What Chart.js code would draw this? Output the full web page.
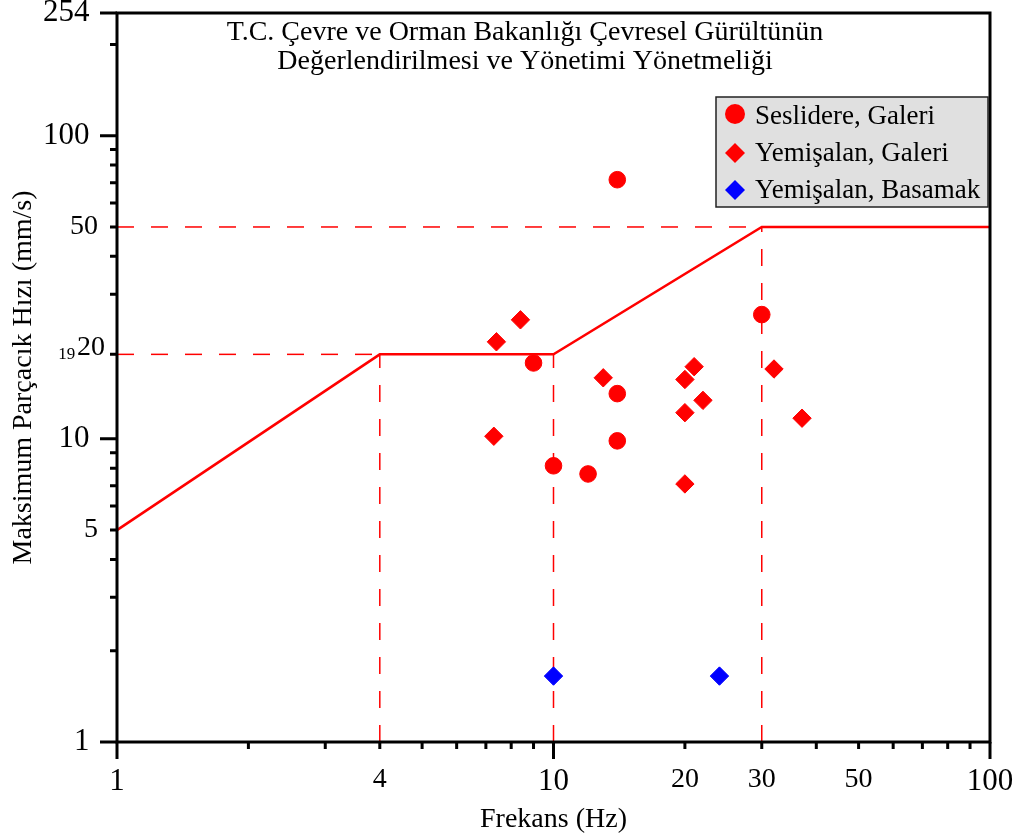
<!DOCTYPE html>
<html>
<head>
<meta charset="utf-8">
<script src="https://cdn.jsdelivr.net/npm/chart.js@4/dist/chart.umd.min.js"></script>
<style>
  html, body { margin: 0; padding: 0; background: #fff; }
</style>
</head>
<body>
<canvas id="chart" width="1020" height="836"></canvas>
<script>
// values (frequency in Hz, peak particle velocity in mm/s)
const seslidereFreq = [14, 30, 9, 14, 14, 10, 12];
const seslidereVel = [71.6, 25.7, 17.8, 14.1, 9.85, 8.15, 7.66];

const galeriFreq = [8.4, 7.4, 7.3, 13, 21, 20, 20, 22, 20, 32, 37.1];
const galeriVel = [24.7, 20.9, 10.2, 15.9, 17.3, 15.7, 12.2, 13.4, 7.1, 17.0, 11.7];

const basamakFreq = [10, 24];
const basamakVel = [1.65, 1.65];

// regulation limit curve
const limitFreq = [1, 4, 10, 30, 100];
const limitVel = [5, 19, 19, 50, 50];

// axis ticks
const xTickLabels = [1, 4, 10, 20, 30, 50, 100];
const yTickLabels = [1, 5, 10, 19, 20, 50, 100, 254];
const xMajorTicks = [1, 10, 100];
const xMinorTicks = [2, 3, 4, 5, 6, 7, 8, 9, 20, 30, 40, 50, 60, 70, 80, 90];
const yMajorTicks = [1, 10, 100, 254];
const yMinorTicks = [2, 3, 4, 5, 6, 7, 8, 9, 19, 30, 40, 50, 60, 70, 80, 90, 200];

const chartTitle = [
  'T.C. Çevre ve Orman Bakanlığı Çevresel Gürültünün',
  'Değerlendirilmesi ve Yönetimi Yönetmeliği'
];

const SERIF = "'Liberation Serif', 'Times New Roman', serif";
const RED = '#ff0000';
const BLUE = '#0000ff';

const pts = (xs, ys) => xs.map((x, i) => ({ x, y: ys[i] }));

// dashed guides drop from the knees of the limit curve
const guide = (data) => ({
  type: 'line',
  data,
  borderColor: RED,
  borderWidth: 1.5,
  borderDash: [17, 17],
  pointRadius: 0,
  fill: false,
  tension: 0
});

// extra right-side space so the right-aligned y labels sit like the original
const yLabelPad = { 1: 2, 5: 1, 10: 2, 19: 7, 50: 1, 100: 2, 254: 2 };

const frameAndTicks = {
  id: 'frameAndTicks',
  afterDraw(chart) {
    const { ctx, chartArea: a, scales: { x, y } } = chart;
    ctx.save();
    ctx.strokeStyle = '#000';
    ctx.lineWidth = 3;
    ctx.beginPath();
    xMajorTicks.forEach(v => { const p = x.getPixelForValue(v); ctx.moveTo(p, a.bottom); ctx.lineTo(p, a.bottom + 17); });
    xMinorTicks.forEach(v => { const p = x.getPixelForValue(v); ctx.moveTo(p, a.bottom); ctx.lineTo(p, a.bottom + 7); });
    yMajorTicks.forEach(v => { const p = y.getPixelForValue(v); ctx.moveTo(a.left, p); ctx.lineTo(a.left - 17, p); });
    yMinorTicks.forEach(v => { const p = y.getPixelForValue(v); ctx.moveTo(a.left, p); ctx.lineTo(a.left - 7, p); });
    ctx.stroke();
    ctx.strokeRect(a.left, a.top, a.right - a.left, a.bottom - a.top);

    // title inside the plot
    ctx.fillStyle = '#000';
    ctx.font = '28px ' + SERIF;
    ctx.textAlign = 'center';
    ctx.textBaseline = 'middle';
    chartTitle.forEach((line, i) => ctx.fillText(line, a.left + 408, a.top + 20 + i * 29));

    // legend box
    const left = a.right - 274, top = a.top + 84, w = 272, h = 110;
    ctx.fillStyle = '#e0e0e0';
    ctx.fillRect(left, top, w, h);
    ctx.lineWidth = 1.5;
    ctx.strokeStyle = '#222';
    ctx.strokeRect(left, top, w, h);
    ctx.textAlign = 'left';
    ctx.font = '27px ' + SERIF;
    chart.data.datasets.filter(d => d.label).forEach((d, i) => {
      const cx = left + 19, cy = top + 19 + i * 37;
      ctx.fillStyle = d.backgroundColor;
      ctx.beginPath();
      if (d.pointStyle === 'circle') {
        ctx.arc(cx, cy - 2, 10, 0, Math.PI * 2);
      } else {
        ctx.moveTo(cx - 10, cy); ctx.lineTo(cx, cy - 10); ctx.lineTo(cx + 10, cy); ctx.lineTo(cx, cy + 10);
        ctx.closePath();
      }
      ctx.fill();
      ctx.fillStyle = '#000';
      ctx.fillText(d.label, left + 39, cy + 1);
    });
    ctx.restore();
  }
};

new Chart(document.getElementById('chart'), {
  type: 'scatter',
  data: {
    datasets: [
      {
        label: 'Seslidere, Galeri',
        data: pts(seslidereFreq, seslidereVel),
        pointStyle: 'circle',
        pointRadius: 8.3,
        backgroundColor: RED,
        borderColor: RED,
        borderWidth: 1
      },
      {
        label: 'Yemişalan, Galeri',
        data: pts(galeriFreq, galeriVel),
        pointStyle: 'rectRot',
        pointRadius: 9.2,
        backgroundColor: RED,
        borderColor: RED,
        borderWidth: 1
      },
      {
        label: 'Yemişalan, Basamak',
        data: pts(basamakFreq, basamakVel),
        pointStyle: 'rectRot',
        pointRadius: 9.2,
        backgroundColor: BLUE,
        borderColor: BLUE,
        borderWidth: 1
      },
      {
        type: 'line',
        data: pts(limitFreq, limitVel),
        borderColor: RED,
        borderWidth: 2.5,
        pointRadius: 0,
        fill: false,
        tension: 0
      },
      guide([{ x: limitFreq[0], y: limitVel[1] }, { x: limitFreq[1], y: limitVel[1] }]),
      guide([{ x: limitFreq[0], y: limitVel[3] }, { x: limitFreq[3], y: limitVel[3] }]),
      guide([{ x: limitFreq[1], y: 1 }, { x: limitFreq[1], y: limitVel[1] }]),
      guide([{ x: limitFreq[2], y: 1 }, { x: limitFreq[2], y: limitVel[2] }]),
      guide([{ x: limitFreq[3], y: 1 }, { x: limitFreq[3], y: limitVel[3] }])
    ]
  },
  options: {
    responsive: false,
    animation: false,
    events: [],
    layout: { padding: { left: 0, right: 30, top: 13, bottom: 0 } },
    plugins: {
      legend: { display: false },
      title: { display: false },
      tooltip: { enabled: false }
    },
    scales: {
      x: {
        type: 'logarithmic',
        min: 1,
        max: 100,
        grid: { display: false, drawTicks: false, tickLength: 0 },
        border: { display: false },
        afterBuildTicks: (scale) => { scale.ticks = xTickLabels.map(v => ({ value: v })); },
        afterFit: (scale) => {
          scale.height = 94;
          scale.paddingLeft = scale.paddingRight = 0;
        },
        ticks: {
          autoSkip: false,
          maxRotation: 0,
          padding: 21,
          color: '#000',
          font: (c) => ({ family: SERIF, size: xMajorTicks.includes(c.tick && c.tick.value) ? 31 : 28 }),
          callback: (v) => String(v)
        },
        title: {
          display: true,
          text: 'Frekans (Hz)',
          color: '#000',
          font: { family: SERIF, size: 28 },
          padding: { top: 0, bottom: 0 }
        }
      },
      y: {
        type: 'logarithmic',
        min: 1,
        max: 254,
        grid: { display: false, drawTicks: false, tickLength: 0 },
        border: { display: false },
        afterBuildTicks: (scale) => { scale.ticks = yTickLabels.map(v => ({ value: v })); },
        afterFit: (scale) => {
          scale.width = 117;
          scale.paddingTop = scale.paddingBottom = 0;
        },
        ticks: {
          autoSkip: false,
          padding: 12,
          color: '#000',
          font: (c) => {
            const v = c.tick && c.tick.value;
            return { family: SERIF, size: v === 19 ? 17 : (yMajorTicks.includes(v) ? 31 : 28) };
          },
          callback: (v) => String(v) + ' '.repeat(yLabelPad[v] || 0)
        },
        title: {
          display: true,
          text: 'Maksimum Parçacık Hızı (mm/s)',
          color: '#000',
          font: { family: SERIF, size: 28 },
          padding: { top: 7, bottom: 0 }
        }
      }
    }
  },
  plugins: [frameAndTicks]
});
</script>
</body>
</html>
